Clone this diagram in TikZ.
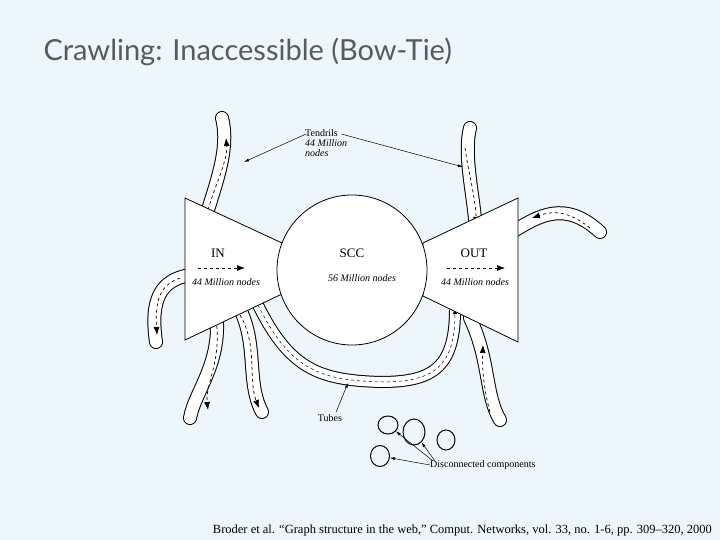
\documentclass[tikz,border=0pt]{standalone}
\usepackage{fontspec}
\setmainfont{Liberation Serif}
\newfontfamily\titlefont{Lato}
\usetikzlibrary{arrows.meta,shapes.geometric}
\definecolor{bg}{RGB}{236,246,251}
\definecolor{ttl}{RGB}{90,90,90}
\begin{document}
\begin{tikzpicture}[x=1pt,y=-1pt,
  shp/.style={draw=black,line width=0.8pt,fill=white},
  band/.style={line width=14pt,draw=black,line cap=round},
  bandin/.style={line width=12pt,draw=white,line cap=round},
  flow/.style={dashed,line width=0.7pt,-{Latex[length=8pt,width=6pt]}},
  lbl/.style={font=\itshape\fontsize{10}{12}\selectfont,inner sep=0pt},
  ptr/.style={-{Latex[length=5pt,width=3pt]},line width=0.5pt}]
\fill[bg] (0,0) rectangle (720,540);
\useasboundingbox (0,0) rectangle (720,540);
\node[anchor=west,font=\titlefont\fontsize{29}{32}\selectfont,text=ttl] (title) at (40,52) {Crawling: Inaccessible (Bow-Tie)};
% tendrils
\foreach \p in {
  {(205,220) .. controls (215,185) and (230,150) .. (222,118)},
  {(476,245) .. controls (478,210) and (462,160) .. (470,128)},
  {(512,232) .. controls (540,215) and (565,200) .. (600,232)},
  {(190,275) .. controls (160,280) and (150,300) .. (156,342)},
  {(215,305) .. controls (225,360) and (195,390) .. (190,418)},
  {(235,300) .. controls (260,340) and (245,380) .. (262,412)},
  {(470,318) .. controls (490,360) and (485,395) .. (500,420)}}{
  \draw[band] \p; \draw[bandin] \p;}
\draw[flow] (208,210) .. controls (215,185) and (228,160) .. (226,138);
\draw[flow] (465,148) .. controls (468,170) and (476,200) .. (476,225);
\draw[flow] (590,228) .. controls (570,212) and (555,210) .. (532,218);
\draw[flow] (180,278) .. controls (160,285) and (155,300) .. (157,335);
\draw[flow] (216,320) .. controls (222,360) and (205,385) .. (208,410);
\draw[flow] (240,315) .. controls (258,345) and (248,380) .. (259,408);
\draw[flow] (490,412) .. controls (484,390) and (482,370) .. (483,345);
% tubes
\draw[line width=12pt,draw=black] (258,305) .. controls (290,370) and (320,380) .. (380,382) .. controls (430,382) and (455,370) .. (455,310);
\draw[line width=10pt,draw=white] (258,305) .. controls (290,370) and (320,380) .. (380,382) .. controls (430,382) and (455,370) .. (455,310);
\draw[dashed,line width=0.5pt,-{Latex[length=6pt,width=4pt]}] (258,305) .. controls (290,370) and (320,380) .. (380,382) .. controls (430,382) and (455,370) .. (455,308);
% bow tie
\draw[shp] (185,198) -- (282,243) -- (282,294) -- (185,340) -- cycle;
\draw[shp] (518,198) -- (423,243) -- (423,296) -- (518,342) -- cycle;
\node[circle,shp,minimum size=150pt,inner sep=0pt] (scc) at (352,270) {};
\node[inner sep=0pt,font=\fontsize{13}{15}\selectfont] (in) at (218,253) {IN};
\node[lbl] (inn) at (226,282) {44 Million nodes};
\draw[flow] (198,268) -- (245,268);
\node[inner sep=0pt,font=\fontsize{13}{15}\selectfont] (sccl) at (352,253) {SCC};
\node[lbl] (sccn) at (362,278) {56 Million nodes};
\node[inner sep=0pt,font=\fontsize{13}{15}\selectfont] (out) at (474,253) {OUT};
\node[lbl] (outn) at (475,282) {44 Million nodes};
\draw[flow] (447,268) -- (505,268);
% labels
\node[lbl,align=left,anchor=north west,font=\itshape\fontsize{10}{10}\selectfont] (tend) at (305,129) {\upshape Tendrils\\44 Million\\nodes};
\coordinate (tl) at (244,162);
\coordinate (tr) at (463,167);
\draw[ptr] (tend.north west) ++(1,5) -- (tl);
\draw[ptr] (tend.north east) ++(-6,5) -- (tr);
\node[inner sep=0pt,font=\fontsize{10}{12}\selectfont] (tubes) at (330,418) {Tubes};
\coordinate (tb) at (348,383);
\draw[ptr] (tubes.north) ++(6,-2) -- (tb);
% disconnected
\node[draw,line width=1pt,ellipse,minimum width=20pt,minimum height=18pt,inner sep=0pt] (d1) at (388,425) {};
\node[draw,line width=1pt,ellipse,minimum width=22pt,minimum height=26pt,inner sep=0pt] (d2) at (414,432) {};
\node[draw,line width=1pt,ellipse,minimum width=18pt,minimum height=20pt,inner sep=0pt] (d3) at (446,440) {};
\node[draw,line width=1pt,ellipse,minimum width=19pt,minimum height=21pt,inner sep=0pt] (d4) at (380,456) {};
\node[inner sep=0pt,font=\fontsize{10}{12}\selectfont,anchor=west] (disc) at (430,465) {Disconnected components};
\draw[ptr] (disc.west) ++(3,-4) -- (d1);
\draw[ptr] (disc.west) ++(5,-4) -- (d2);
\draw[ptr] (disc.west) -- (d4);
\node[anchor=east,inner sep=0pt,font=\fontsize{12.5}{14}\selectfont] (ref) at (712,530) {Broder et al. “Graph structure in the web,” Comput. Networks, vol. 33, no. 1-6, pp. 309–320, 2000};
\end{tikzpicture}
\end{document}
